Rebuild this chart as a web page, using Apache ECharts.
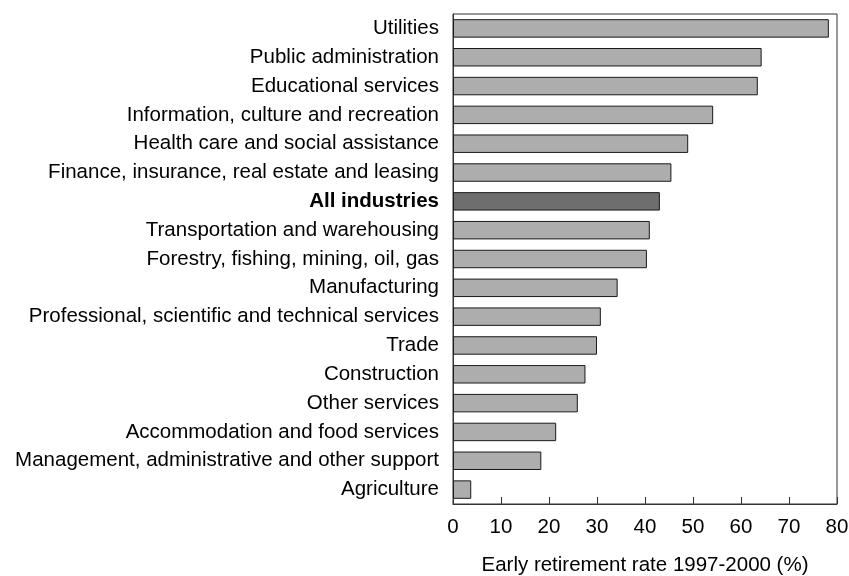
<!DOCTYPE html>
<html>
<head>
<meta charset="utf-8">
<script src="https://cdn.jsdelivr.net/npm/echarts@6/dist/echarts.min.js"></script>
<style>
html, body { margin: 0; padding: 0; background: #fff; }
#chart { width: 849px; height: 576px; }
</style>
</head>
<body>
<div id="chart"></div>
<script>
/* industries, top to bottom */
var industries = [
	'Utilities',
	'Public administration',
	'Educational services',
	'Information, culture and recreation',
	'Health care and social assistance',
	'Finance, insurance, real estate and leasing',
	'All industries',
	'Transportation and warehousing',
	'Forestry, fishing, mining, oil, gas',
	'Manufacturing',
	'Professional, scientific and technical services',
	'Trade',
	'Construction',
	'Other services',
	'Accommodation and food services',
	'Management, administrative and other support',
	'Agriculture'
];
var rates = [78.3, 64.3, 63.5, 54.2, 49.0, 45.5, 43.1, 41.0, 40.4, 34.3, 30.8, 30.0, 27.6, 26.0, 21.5, 18.4, 3.8];
var xTicks = [0, 10, 20, 30, 40, 50, 60, 70, 80];
var totalName = 'All industries';

var chart = echarts.init(document.getElementById('chart'));

var barData = rates.map(function (v, i) {
	var isTotal = industries[i] == totalName;
	return {
		value: v,
		itemStyle: { color: isTotal ? '#6e6e6e' : '#adadad' }
	};
});

chart.setOption({
	animation: false,
	backgroundColor: '#fff',
	textStyle: { fontFamily: 'Liberation Sans, Arial, sans-serif' },
	grid: {
		left: 453,
		right: 12,
		top: 14,
		bottom: 72,
		show: true,
		borderColor: '#333',
		borderWidth: 1,
		containLabel: false,
		outerBoundsMode: 'none'
	},
	xAxis: {
		type: 'value',
		min: xTicks[0],
		max: xTicks[xTicks.length - 1],
		interval: 10,
		name: 'Early retirement rate 1997-2000 (%)',
		nameLocation: 'middle',
		nameGap: 51,
		nameTextStyle: { fontSize: 20.5, color: '#000' },
		axisLine: { show: true, lineStyle: { color: '#333' } },
		axisTick: { show: true, inside: true, length: 7, lineStyle: { color: '#333' } },
		axisLabel: { fontSize: 20.5, color: '#000', margin: 13 },
		splitLine: { show: false }
	},
	yAxis: {
		type: 'category',
		inverse: true,
		data: industries,
		axisLine: { show: true, lineStyle: { color: '#333' } },
		axisTick: { show: false },
		axisLabel: {
			fontSize: 20.5,
			color: '#000',
			margin: 14,
			formatter: function (v) {
				return v == totalName ? '{b|' + v + '}' : v;
			},
			rich: {
				b: { fontWeight: 'bold', fontSize: 20.5, color: '#000' }
			}
		}
	},
	series: [{
		type: 'bar',
		data: barData,
		barCategoryGap: '36%',
		itemStyle: { borderColor: '#1a1a1a', borderWidth: 1 }
	}]
});
</script>
</body>
</html>
